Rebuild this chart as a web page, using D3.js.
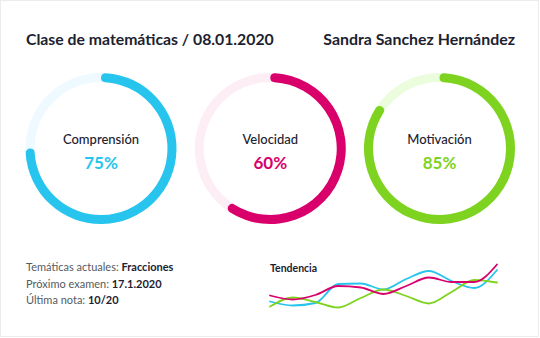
<!DOCTYPE html>
<html><head><meta charset="utf-8">
<script src="https://cdn.jsdelivr.net/npm/d3@7"></script>
<style>
body{margin:0;background:#fff}
svg{display:block}
text{font-family:Lato,"Open Sans",sans-serif}
</style>
</head><body>
<svg id="c" width="540" height="338"></svg>
<script>
const titleText = "Clase de matemáticas / 08.01.2020";
const studentName = "Sandra Sanchez Hernández";
const metrics = ["Comprensión", "Velocidad", "Motivación"];
const percents = [75, 60, 85];
const colors = ["#27c4ee", "#d9006c", "#7ed321"];
const trackColors = ["#eefaff", "#fdeef5", "#ebfddd"];
const infoLabels = ["Temáticas actuales: ", "Próximo examen: ", "Última nota: "];
const infoValues = ["Fracciones", "17.1.2020", "10/20"];
const trendTitle = "Tendencia";
const trendIndex = [0, 1, 2, 3, 4, 5, 6, 7, 8, 9, 10];
const trendComprension = [21, 13, 18, 56, 57, 45, 66, 82, 62, 48, 84];
const trendVelocidad   = [33, 25, 34, 52, 49, 36, 52, 69, 60, 60, 95];
const trendMotivacion  = [11, 29, 20, 9, 28, 45, 32, 17, 40, 64, 59];

const svg = d3.select("#c");
const dark = "#1c2230";

svg.append("rect").attr("x", 0.5).attr("y", 0.5).attr("width", 538).attr("height", 336)
  .attr("fill", "#fff").attr("stroke", "#ececec");

function fit(sel, w) {
  const l = sel.node().getComputedTextLength();
  sel.attr("font-size", parseFloat(sel.attr("font-size")) * w / l);
}

const t1 = svg.append("text").attr("x", 26).attr("y", 45).attr("font-size", 16)
  .attr("font-weight", 700).attr("fill", dark).text(titleText);
fit(t1, 248);
const t2 = svg.append("text").attr("x", 515).attr("y", 45).attr("text-anchor", "end")
  .attr("font-size", 16).attr("font-weight", 700).attr("fill", dark).text(studentName);
fit(t2, 192);

// rings
const ringX = d3.scalePoint().domain(metrics).range([101, 439.5]);
const angle = d3.scaleLinear().domain([0, 100]).range([0, 2 * Math.PI]);
const cy = 148.5, rOut = 75.5, rIn = 66.5;
const track = d3.arc().innerRadius(rIn).outerRadius(rOut).startAngle(0).endAngle(2 * Math.PI);
const arc = d3.arc().innerRadius(rIn).outerRadius(rOut).startAngle(0).cornerRadius((rOut - rIn) / 2);

metrics.forEach((m, i) => {
  const g = svg.append("g").attr("transform", `translate(${ringX(m)},${cy})`);
  g.append("path").attr("d", track()).attr("fill", trackColors[i]);
  g.append("path").attr("d", arc({endAngle: angle(percents[i])})).attr("fill", colors[i]);
  g.append("text").attr("y", -4.5).attr("text-anchor", "middle").attr("font-size", 13)
    .attr("font-weight", 500).attr("fill", dark).text(m);
  g.append("text").attr("y", 20.5).attr("text-anchor", "middle").attr("font-size", 17)
    .attr("font-weight", 700).attr("fill", colors[i]).text(percents[i] + "%");
});

// info
infoLabels.forEach((lab, i) => {
  const t = svg.append("text").attr("x", 26).attr("y", 271 + i * 16.5).attr("font-size", 11);
  t.append("tspan").attr("fill", "#555a60").text(lab);
  t.append("tspan").attr("fill", dark).attr("font-weight", 700).text(infoValues[i]);
});

// trend
svg.append("text").attr("x", 270).attr("y", 271.5).attr("font-size", 10.5)
  .attr("font-weight", 700).attr("fill", dark).text(trendTitle);
const x = d3.scaleLinear().domain([0, 10]).range([270, 497]);
const y = d3.scaleLinear().domain([0, 100]).range([312, 262]);
const line = d3.line().x((d, i) => x(trendIndex[i])).y(d => y(d)).curve(d3.curveMonotoneX);
[[trendComprension, colors[0]], [trendMotivacion, colors[2]], [trendVelocidad, colors[1]]]
  .forEach(([data, c]) => {
    svg.append("path").attr("d", line(data)).attr("fill", "none").attr("stroke", c)
      .attr("stroke-width", 1.8).attr("stroke-linecap", "round");
  });
</script>
</body></html>
